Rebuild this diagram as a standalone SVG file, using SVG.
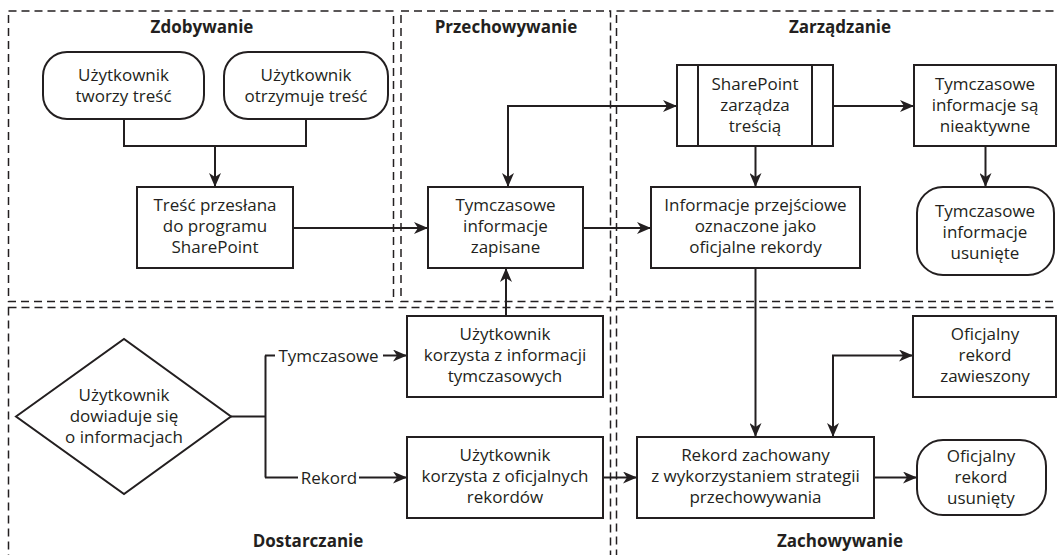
<svg xmlns="http://www.w3.org/2000/svg" width="1057" height="555" viewBox="0 0 1057 555">
<defs>
<marker id="ah" markerUnits="userSpaceOnUse" markerWidth="14" markerHeight="12" viewBox="0 0 14 12" refX="14" refY="6" orient="auto-start-reverse">
<path d="M0,0 L14,6 L0,12 L4,6 z" fill="#231f20"/>
</marker>
<style>
.zone{fill:none;stroke:#231f20;stroke-width:1.5;stroke-dasharray:8 5}
.nd{fill:#fff;stroke:#231f20;stroke-width:2}
.t{font-family:"Open Sans","Liberation Sans",sans-serif;font-size:17px;fill:#231f20;text-anchor:middle}
.h{font-family:"Open Sans","Liberation Sans",sans-serif;font-size:17px;font-weight:bold;fill:#231f20;text-anchor:middle}
.c{fill:none;stroke:#231f20;stroke-width:2}
.a{marker-end:url(#ah)}
.b{marker-start:url(#ah);marker-end:url(#ah)}
</style>
</defs>
<rect width="1057" height="555" fill="#fff"/>
<g id="zones">
<rect class="zone" x="8.5" y="11" width="385" height="290.5"/>
<rect class="zone" x="401" y="11" width="209.5" height="290.5"/>
<rect class="zone" x="616.5" y="11" width="450" height="290.5"/>
<rect class="zone" x="8.5" y="307.5" width="602" height="260"/>
<rect class="zone" x="616.5" y="307.5" width="450" height="260"/>
<text class="h" x="202" y="33">Zdobywanie</text>
<text class="h" x="506" y="33">Przechowywanie</text>
<text class="h" x="840" y="33">Zarządzanie</text>
<text class="h" x="308" y="547">Dostarczanie</text>
<text class="h" x="840" y="547">Zachowywanie</text>
</g>
<g id="connectors">
<path class="c" d="M124,119 V146 H306 V119"/>
<path class="c a" d="M215,146 V187"/>
<path class="c a" d="M293,228 H428"/>
<path class="c a" d="M583,228 H651"/>
<path class="c b" d="M508,187 V106 H677"/>
<path class="c a" d="M833,106 H914"/>
<path class="c a" d="M755.5,146 V187"/>
<path class="c a" d="M985.5,146 V187"/>
<path class="c a" d="M755.5,268 V437"/>
<path class="c a" d="M506,316 V268"/>
<path class="c" d="M231,416.5 H265.5 M265.5,355.5 V477.5 M265,355.5 H275 M265,477.5 H298"/>
<path class="c a" d="M383,355.5 H407"/>
<path class="c a" d="M359,477.5 H407"/>
<text class="t" x="328.5" y="362">Tymczasowe</text>
<text class="t" x="329" y="484">Rekord</text>
<path class="c a" d="M603,477.5 H637"/>
<path class="c b" d="M833,437 V355.5 H913"/>
<path class="c a" d="M874,477.5 H917"/>
</g>
<g id="n1"><rect class="nd" x="43" y="52" width="161" height="67" rx="24"/>
<text class="t" x="123.5" y="81">Użytkownik</text><text class="t" x="123.5" y="102">tworzy treść</text></g>
<g id="n2"><rect class="nd" x="224" y="52" width="164" height="67" rx="24"/>
<text class="t" x="306" y="81">Użytkownik</text><text class="t" x="306" y="102">otrzymuje treść</text></g>
<g id="n3"><rect class="nd" x="137" y="187" width="156" height="81"/>
<text class="t" x="215" y="211">Treść przesłana</text><text class="t" x="215" y="232">do programu</text><text class="t" x="215" y="253">SharePoint</text></g>
<g id="n4"><rect class="nd" x="428" y="187" width="155" height="81"/>
<text class="t" x="505.5" y="211">Tymczasowe</text><text class="t" x="505.5" y="232">informacje</text><text class="t" x="505.5" y="253">zapisane</text></g>
<g id="n5"><rect class="nd" x="677" y="65" width="156" height="81"/>
<path class="c" d="M698,65 V146 M812,65 V146"/>
<text class="t" x="755" y="90">SharePoint</text><text class="t" x="755" y="111">zarządza</text><text class="t" x="755" y="132">treścią</text></g>
<g id="n6"><rect class="nd" x="914" y="65" width="142" height="81"/>
<text class="t" x="985" y="90">Tymczasowe</text><text class="t" x="985" y="111">informacje są</text><text class="t" x="985" y="132">nieaktywne</text></g>
<g id="n7"><rect class="nd" x="651" y="187" width="209" height="81"/>
<text class="t" x="755.5" y="211">Informacje przejściowe</text><text class="t" x="755.5" y="232">oznaczone jako</text><text class="t" x="755.5" y="253">oficjalne rekordy</text></g>
<g id="n8"><rect class="nd" x="917" y="187" width="137" height="88" rx="26"/>
<text class="t" x="985" y="217">Tymczasowe</text><text class="t" x="985" y="238">informacje</text><text class="t" x="985" y="259">usunięte</text></g>
<g id="n9"><path class="nd" d="M16,416.5 L124,339 L231,416.5 L124,494 z"/>
<text class="t" x="124" y="401">Użytkownik</text><text class="t" x="124" y="422">dowiaduje się</text><text class="t" x="124" y="443">o informacjach</text></g>
<g id="n10"><rect class="nd" x="407" y="316" width="196" height="81"/>
<text class="t" x="505" y="340">Użytkownik</text><text class="t" x="505" y="361">korzysta z informacji</text><text class="t" x="505" y="382">tymczasowych</text></g>
<g id="n11"><rect class="nd" x="407" y="437" width="196" height="81"/>
<text class="t" x="505" y="461">Użytkownik</text><text class="t" x="505" y="482">korzysta z oficjalnych</text><text class="t" x="505" y="503">rekordów</text></g>
<g id="n12"><rect class="nd" x="637" y="437" width="237" height="81"/>
<text class="t" x="755.5" y="461">Rekord zachowany</text><text class="t" x="755.5" y="482">z wykorzystaniem strategii</text><text class="t" x="755.5" y="503">przechowywania</text></g>
<g id="n13"><rect class="nd" x="913" y="316" width="143" height="81"/>
<text class="t" x="985" y="340">Oficjalny</text><text class="t" x="985" y="361">rekord</text><text class="t" x="985" y="382">zawieszony</text></g>
<g id="n14"><rect class="nd" x="917" y="440" width="129" height="75" rx="26"/>
<text class="t" x="981" y="462">Oficjalny</text><text class="t" x="981" y="483">rekord</text><text class="t" x="981" y="504">usunięty</text></g>
</svg>
